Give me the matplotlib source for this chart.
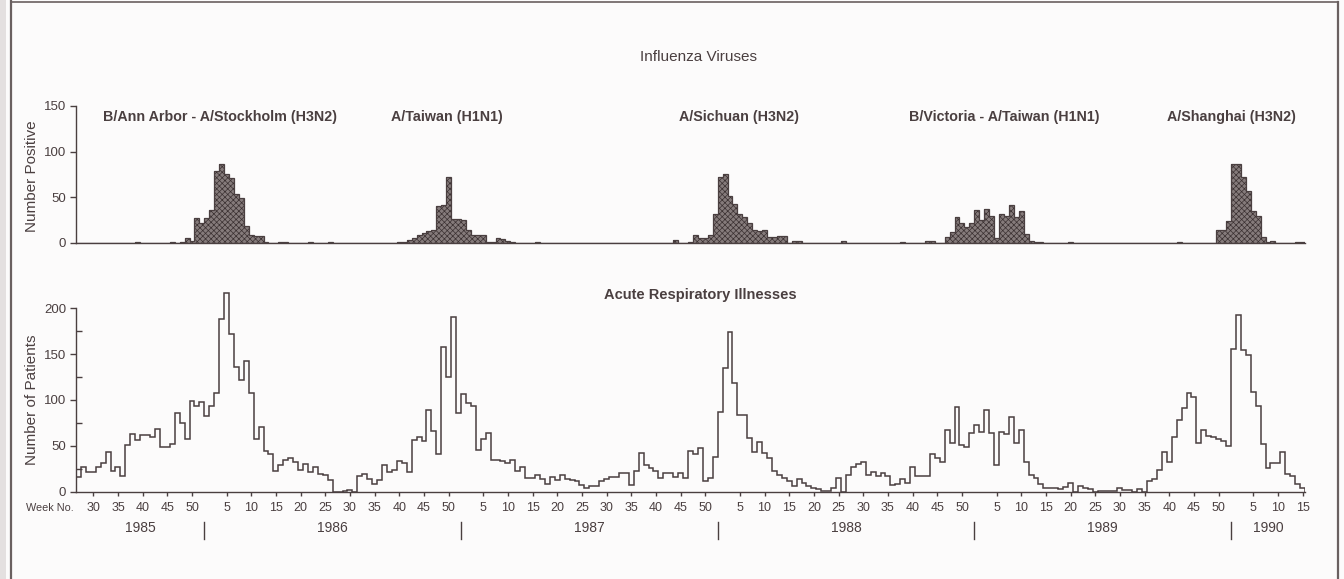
import numpy as np
import matplotlib
matplotlib.use("Agg")
import matplotlib.pyplot as plt
from matplotlib.lines import Line2D
from matplotlib.transforms import blended_transform_factory

plt.rcParams['font.family'] = ['Liberation Sans', 'DejaVu Sans']
plt.rcParams['hatch.linewidth'] = 0.5

INK = '#4a3f40'
BAR = '#857b7b'

# weekly series, 1985 starts at week 27, 1990 stops at week 15
years = [1985, 1986, 1987, 1988, 1989, 1990]
first_week = [27, 1, 1, 1, 1, 1]
tick_every = 5

# Acute respiratory illnesses (number of patients)
ari_1985 = [16, 27, 22, 22, 27, 32, 44, 23, 27, 17, 51, 63, 56, 62, 62, 60, 68, 49, 49, 52,
            86, 75, 58, 99, 93, 98]
ari_1986 = [83, 93, 108, 188, 216, 172, 136, 122, 142, 108, 58, 71, 45, 41, 23, 29, 35, 37, 33, 24,
            30, 22, 27, 20, 18, 13, 0, 0, 1, 2, 0, 17, 20, 14, 9, 13, 29, 22, 24, 34,
            32, 22, 56, 60, 55, 89, 66, 41, 158, 125, 190, 86]
ari_1987 = [106, 97, 93, 46, 58, 64, 35, 35, 34, 31, 35, 23, 27, 15, 15, 19, 14, 9, 16, 13,
            19, 14, 13, 12, 8, 4, 7, 7, 12, 14, 16, 16, 21, 21, 8, 23, 42, 29, 26, 23,
            15, 21, 21, 16, 21, 15, 45, 41, 48, 12, 15, 38]
ari_1988 = [87, 135, 174, 118, 84, 84, 59, 44, 54, 42, 37, 23, 18, 15, 12, 7, 14, 10, 7, 4,
            3, 1, 1, 4, 15, 0, 19, 27, 30, 33, 18, 22, 17, 21, 17, 8, 9, 14, 10, 27,
            17, 17, 17, 41, 37, 33, 67, 53, 92, 51, 49, 64]
ari_1989 = [73, 65, 89, 64, 29, 65, 63, 82, 53, 67, 33, 18, 15, 9, 4, 4, 4, 3, 5, 10,
            0, 6, 4, 3, 0, 1, 1, 1, 1, 4, 2, 2, 0, 3, 0, 12, 14, 24, 43, 33,
            60, 78, 91, 108, 103, 53, 67, 61, 60, 58, 55, 50]
ari_1990 = [155, 192, 154, 149, 109, 93, 52, 26, 31, 31, 43, 20, 17, 9, 4]

# Influenza viruses (number positive)
flu_1985 = [0, 0, 0, 0, 0, 0, 0, 0, 0, 0, 0, 0, 1, 0, 0, 0, 0, 0, 0, 1,
            0, 1, 5, 2, 27, 22]
flu_1986 = [27, 36, 79, 86, 76, 71, 54, 49, 19, 9, 8, 8, 1, 0, 0, 1, 1, 0, 0, 0,
            0, 1, 0, 0, 0, 1, 0, 0, 0, 0, 0, 0, 0, 0, 0, 0, 0, 0, 0, 1,
            1, 3, 6, 9, 11, 13, 14, 41, 42, 72, 26, 26]
flu_1987 = [25, 14, 9, 9, 9, 1, 1, 5, 4, 2, 1, 0, 0, 0, 0, 1, 0, 0, 0, 0,
            0, 0, 0, 0, 0, 0, 0, 0, 0, 0, 0, 0, 0, 0, 0, 0, 0, 0, 0, 0,
            0, 0, 0, 3, 0, 0, 1, 9, 5, 5, 9, 32]
flu_1988 = [72, 75, 51, 43, 32, 28, 22, 14, 13, 14, 7, 7, 8, 8, 0, 2, 2, 0, 0, 0,
            0, 0, 0, 0, 0, 2, 0, 0, 0, 0, 0, 0, 0, 0, 0, 0, 0, 1, 0, 0,
            0, 0, 2, 2, 0, 0, 7, 12, 28, 22, 18, 22]
flu_1989 = [36, 25, 37, 30, 6, 32, 30, 42, 28, 35, 10, 2, 1, 1, 0, 0, 0, 0, 0, 1,
            0, 0, 0, 0, 0, 0, 0, 0, 0, 0, 0, 0, 0, 0, 0, 0, 0, 0, 0, 0,
            0, 1, 0, 0, 0, 0, 0, 0, 0, 14, 14, 24]
flu_1990 = [87, 87, 72, 57, 35, 30, 7, 1, 2, 0, 0, 0, 0, 1, 1]

strains = ['B/Ann Arbor - A/Stockholm (H3N2)', 'A/Taiwan (H1N1)', 'A/Sichuan (H3N2)',
           'B/Victoria - A/Taiwan (H1N1)', 'A/Shanghai (H3N2)']
strain_x = [220, 447, 739, 1004, 1231]   # label centres, figure pixels

ari_years = [ari_1985, ari_1986, ari_1987, ari_1988, ari_1989, ari_1990]
flu_years = [flu_1985, flu_1986, flu_1987, flu_1988, flu_1989, flu_1990]

ari = np.concatenate(ari_years)
flu = np.concatenate(flu_years)
edges = np.arange(len(ari) + 1)

# week ticks and year boundaries on a continuous week index
ticks, tick_labels, bounds = [], [], [0]
for yr, fw, vals in zip(years, first_week, ari_years):
    start = bounds[-1]
    for k in range(len(vals)):
        wk = fw + k
        if wk % tick_every == 0:
            ticks.append(start + k + 0.5)
            tick_labels.append(str(wk))
    bounds.append(start + len(vals))

W, H = 1344, 579
fig = plt.figure(figsize=(W / 100, H / 100), dpi=100)
fig.patch.set_facecolor('#fcfbfb')

left, right = 76 / W, 1305 / W
ax1 = fig.add_axes([left, 1 - 243 / H, right - left, 137 / H])
ax2 = fig.add_axes([left, 1 - 492 / H, right - left, 202.4 / H])

for ax in (ax1, ax2):
    ax.set_facecolor('none')
    for s in ('top', 'right'):
        ax.spines[s].set_visible(False)
    for s in ('left', 'bottom'):
        ax.spines[s].set_color(INK)
        ax.spines[s].set_linewidth(1.0)
    ax.set_xlim(0, len(ari))
    ax.tick_params(colors=INK, labelcolor=INK, labelsize=9.5, width=1.0)

# top: hatched histogram
ax1.stairs(flu, edges, fill=True, facecolor=BAR, edgecolor='#3b3132', hatch='xxxxxx', linewidth=0)
ax1.stairs(flu, edges, color=INK, linewidth=0.9)
ax1.set_ylim(0, 150)
ax1.spines['left'].set_bounds(0, 150)
ax1.set_yticks([0, 50, 100, 150])
ax1.set_xticks([])
ax1.tick_params(axis='y', length=4, pad=3)

# bottom: step line
ax2.stairs(ari, edges, color=INK, linewidth=1.1)
ax2.set_ylim(0, 220)
ax2.spines['left'].set_bounds(0, 200)
ax2.set_yticks([0, 50, 100, 150, 200])
ax2.set_yticks([25, 75, 125, 175], minor=True)
ax2.tick_params(axis='y', which='major', length=4, pad=3)
ax2.tick_params(axis='y', which='minor', length=4, direction='in', color=INK, width=1.0)
ax2.set_xticks(ticks)
ax2.set_xticklabels(tick_labels)
ax2.tick_params(axis='x', length=3, pad=4, labelsize=9)

tr = blended_transform_factory(ax2.transData, ax2.transAxes)
for b in bounds[1:-1]:
    ax2.add_line(Line2D([b, b], [-0.148, -0.232], transform=tr, color=INK,
                        linewidth=1.0, clip_on=False))
for yr, a, b in zip(years, bounds[:-1], bounds[1:]):
    ax2.text((a + b) / 2, -0.178, str(yr), transform=tr, ha='center', va='center',
             fontsize=10, color=INK)

fig.text(32 / W, 1 - 176 / H, 'Number Positive', rotation=90, ha='center', va='center',
         fontsize=11, color=INK)
fig.text(32 / W, 1 - 400 / H, 'Number of Patients', rotation=90, ha='center', va='center',
         fontsize=11, color=INK)
fig.text(74 / W, 1 - 508 / H, 'Week No.', ha='right', va='center', fontsize=7.8,
         color=INK)

fig.text(699 / W, 1 - 57 / H, 'Influenza Viruses', ha='center', va='center',
         fontsize=11, color=INK)
fig.text(700 / W, 1 - 295 / H, 'Acute Respiratory Illnesses', ha='center', va='center',
         fontsize=10.5, color=INK, fontweight='bold')
for name, x in zip(strains, strain_x):
    fig.text(x / W, 1 - 117 / H, name, ha='center', va='center', fontsize=10.3,
             color=INK, fontweight='bold')

# scanned page frame
fig.add_artist(plt.Rectangle((0, 0), 6 / W, 1, transform=fig.transFigure,
                             facecolor='#e4e0e0', edgecolor='none'))
fig.add_artist(Line2D([11 / W, 11 / W], [0, 1], transform=fig.transFigure,
                      color='#6a6060', linewidth=1.6))
fig.add_artist(Line2D([11 / W, 1338 / W], [1 - 2 / H, 1 - 2 / H], transform=fig.transFigure,
                      color='#6a6060', linewidth=1.2))
fig.add_artist(Line2D([1338 / W, 1338 / W], [0, 1 - 2 / H], transform=fig.transFigure,
                      color='#6a6060', linewidth=1.6))

fig.savefig('out.png', dpi=100, facecolor=fig.get_facecolor())
